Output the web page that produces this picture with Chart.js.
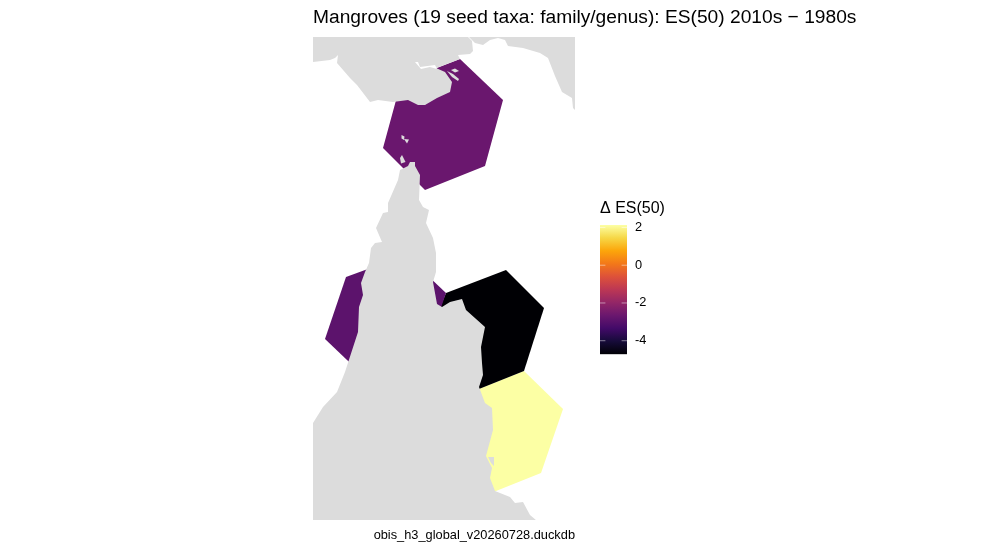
<!DOCTYPE html>
<html>
<head>
<meta charset="utf-8">
<title>Mangroves ES(50)</title>
<script src="https://cdn.jsdelivr.net/npm/chart.js@4"></script>
<style>
  body { margin: 0; background: #fff; }
  #map { position: absolute; left: 0; top: 0; }
  #bar { position: absolute; left: 590px; top: 190px; }
  #plotTitle {
    position: absolute; left: 313px; top: 5px;
    font: 19.2px/24px 'Liberation Sans', Arial, sans-serif;
    white-space: nowrap; color: #000;
  }
</style>
</head>
<body>
<canvas id="map" width="990" height="550"></canvas>
<canvas id="bar" width="100" height="180"></canvas>
<div id="plotTitle">Mangroves (19 seed taxa: family/genus): ES(50) 2010s &minus; 1980s</div>
<script>
// Map outlines as [x, y] map units
const landNorthWest = [[313,37],[468,37],[472,41],[473,51],[470,54],[458,55],[460,59],[436,68],[445,72],[452,82],[450,92],[437,98],[425,105],[418,105],[408,100],[393,102],[378,100],[370,102],[357,85],[350,78],[337,63],[338,55],[335,58],[330,60],[313,62]];
const landNorthEast = [[469,37],[475,43],[483,45],[490,40],[498,38],[505,40],[508,46],[523,48],[540,53],[548,58],[555,76],[562,92],[572,98],[573,108],[575,110],[575,37]];
const landMain = [[400,170],[408,166],[410,162],[415,162],[415,166],[420,175],[419,200],[423,207],[429,210],[426,223],[433,238],[436,253],[436,272],[433,282],[437,304],[442,307],[450,302],[462,299],[466,310],[485,327],[481,347],[482,363],[483,375],[479,387],[485,403],[492,408],[493,430],[486,456],[492,468],[490,478],[495,491],[510,497],[515,503],[523,502],[530,515],[536,520],[313,520],[313,423],[323,407],[337,392],[345,372],[358,332],[359,307],[363,295],[361,283],[365,272],[369,263],[371,248],[375,243],[382,242],[376,228],[383,213],[388,212],[388,203],[398,180]];
const islands = [
  [[451,70],[455,68.5],[459,71],[455,72.5]],
  [[447,71],[453,74],[459,79],[458,81],[452,77]],
  [[401.5,135],[404.5,136.5],[404,140],[401.5,138.5]],
  [[404,139],[409,139.5],[407,143.5]],
  [[402,155],[405.5,162],[401,163.5],[400,158]],
  [[488,457],[494,457],[494,466],[491,463]]
];
const seaChannel = [[415,62],[418,62],[420,67],[435,65],[437,69],[430,67],[421,69]];

// H3 cells and their change in ES(50)
const cellNorth = [[460,59],[503,100],[485,166],[425,190],[383,148],[401,82]];
const cellWest = [[406,255],[446,293],[425,355],[367,378],[347,360],[325,339],[346,277]];
const cellMiddle = [[446,293],[506,270],[544,308],[524,371],[464,395],[421,353]];
const cellSouth = [[524,371],[563,409],[541,473],[481,497],[462,430],[464,395]];
const cellValues = [-2.67, -2.9, -4.72, 2.13];

const infernoColors = ['#000004','#160B39','#420A68','#6A176E','#932667','#BC3754','#DD513A','#F37819','#FCA50A','#F6D746','#FCFFA4'];
const scaleRange = [-4.72, 2.13];
const scaleTicks = [2, 0, -2, -4];

const LAND = '#DCDCDC';
const fontName = "'Liberation Sans', Arial, sans-serif";

// value -> inferno colour
function inferno(v) {
    const t = (v - scaleRange[0]) / (scaleRange[1] - scaleRange[0]) * (infernoColors.length - 1);
    const i = Math.min(Math.floor(t), infernoColors.length - 2);
    const f = t - i;
    const a = parseInt(infernoColors[i].slice(1), 16);
    const b = parseInt(infernoColors[i + 1].slice(1), 16);
    const mix = s => Math.round(((a >> s) & 255) * (1 - f) + ((b >> s) & 255) * f);
    return `rgb(${mix(16)},${mix(8)},${mix(0)})`;
}

function shape(points, color) {
    return {
        data: points.map(p => ({ x: p[0], y: p[1] })),
        backgroundColor: color,
        borderWidth: 0,
        pointRadius: 0,
        showLine: true,
        fill: 'shape',
        tension: 0
    };
}

Chart.defaults.font.family = fontName;
Chart.defaults.color = '#000';

// first dataset ends up on top
new Chart(document.getElementById('map'), {
    type: 'scatter',
    data: {
        datasets: [
            shape(seaChannel, '#fff'),
            ...islands.map(p => shape(p, LAND)),
            shape(landNorthWest, LAND),
            shape(landNorthEast, LAND),
            shape(landMain, LAND),
            shape(cellNorth, inferno(cellValues[0])),
            shape(cellWest, inferno(cellValues[1])),
            shape(cellMiddle, inferno(cellValues[2])),
            shape(cellSouth, inferno(cellValues[3]))
        ]
    },
    options: {
        responsive: false,
        animation: false,
        devicePixelRatio: 1,
        layout: { padding: { left: 313, right: 415, top: 37, bottom: 0 } },
        plugins: {
            legend: { display: false },
            tooltip: { enabled: false },
            subtitle: {
                display: true,
                position: 'bottom',
                align: 'end',
                text: 'obis_h3_global_v20260728.duckdb',
                font: { size: 12.8, weight: 'normal' },
                padding: { top: 7.3, bottom: 7.3 }
            }
        },
        scales: {
            x: { type: 'linear', display: false, min: 313, max: 575 },
            y: { type: 'linear', display: false, reverse: true, min: 37, max: 520 }
        }
    }
});

// Colour bar
const whiteTicks = {
    id: 'whiteTicks',
    afterDatasetsDraw(chart) {
        const { ctx, chartArea, scales } = chart;
        const len = chartArea.width / 5;
        ctx.save();
        ctx.strokeStyle = 'rgba(255,255,255,0.8)';
        ctx.lineWidth = 0.6;
        scaleTicks.forEach(v => {
            const y = scales.y.getPixelForValue(v);
            ctx.beginPath();
            ctx.moveTo(chartArea.left, y);
            ctx.lineTo(chartArea.left + len, y);
            ctx.moveTo(chartArea.right - len, y);
            ctx.lineTo(chartArea.right, y);
            ctx.stroke();
        });
        ctx.restore();
    }
};

new Chart(document.getElementById('bar'), {
    type: 'bar',
    data: {
        labels: ['\u0394 ES(50)'],
        datasets: [{
            data: [scaleRange],
            categoryPercentage: 1,
            barPercentage: 1,
            backgroundColor(c) {
                const area = c.chart.chartArea;
                if (!area) return '#000';
                const g = c.chart.ctx.createLinearGradient(0, area.bottom, 0, area.top);
                infernoColors.forEach((col, i) => g.addColorStop(i / (infernoColors.length - 1), col));
                return g;
            }
        }]
    },
    plugins: [whiteTicks],
    options: {
        responsive: false,
        animation: false,
        devicePixelRatio: 1,
        layout: { padding: { left: 10, right: 0, top: 0, bottom: 13 } },
        plugins: {
            legend: { display: false },
            tooltip: { enabled: false },
            title: {
                display: true,
                align: 'start',
                text: '\u0394 ES(50)',
                font: { size: 16, weight: 'normal' },
                padding: { top: 9, bottom: 6.8 }
            }
        },
        scales: {
            x: { display: false },
            y: {
                position: 'right',
                min: scaleRange[0],
                max: scaleRange[1],
                border: { display: false },
                grid: { display: false, drawTicks: false },
                afterBuildTicks(axis) { axis.ticks = scaleTicks.map(v => ({ value: v })); },
                afterFit(axis) { axis.width = 63; },
                ticks: {
                    align: 'center',
                    crossAlign: 'near',
                    padding: 8,
                    font: { size: 12.8 },
                    color: '#000'
                }
            }
        }
    }
});
</script>
</body>
</html>
